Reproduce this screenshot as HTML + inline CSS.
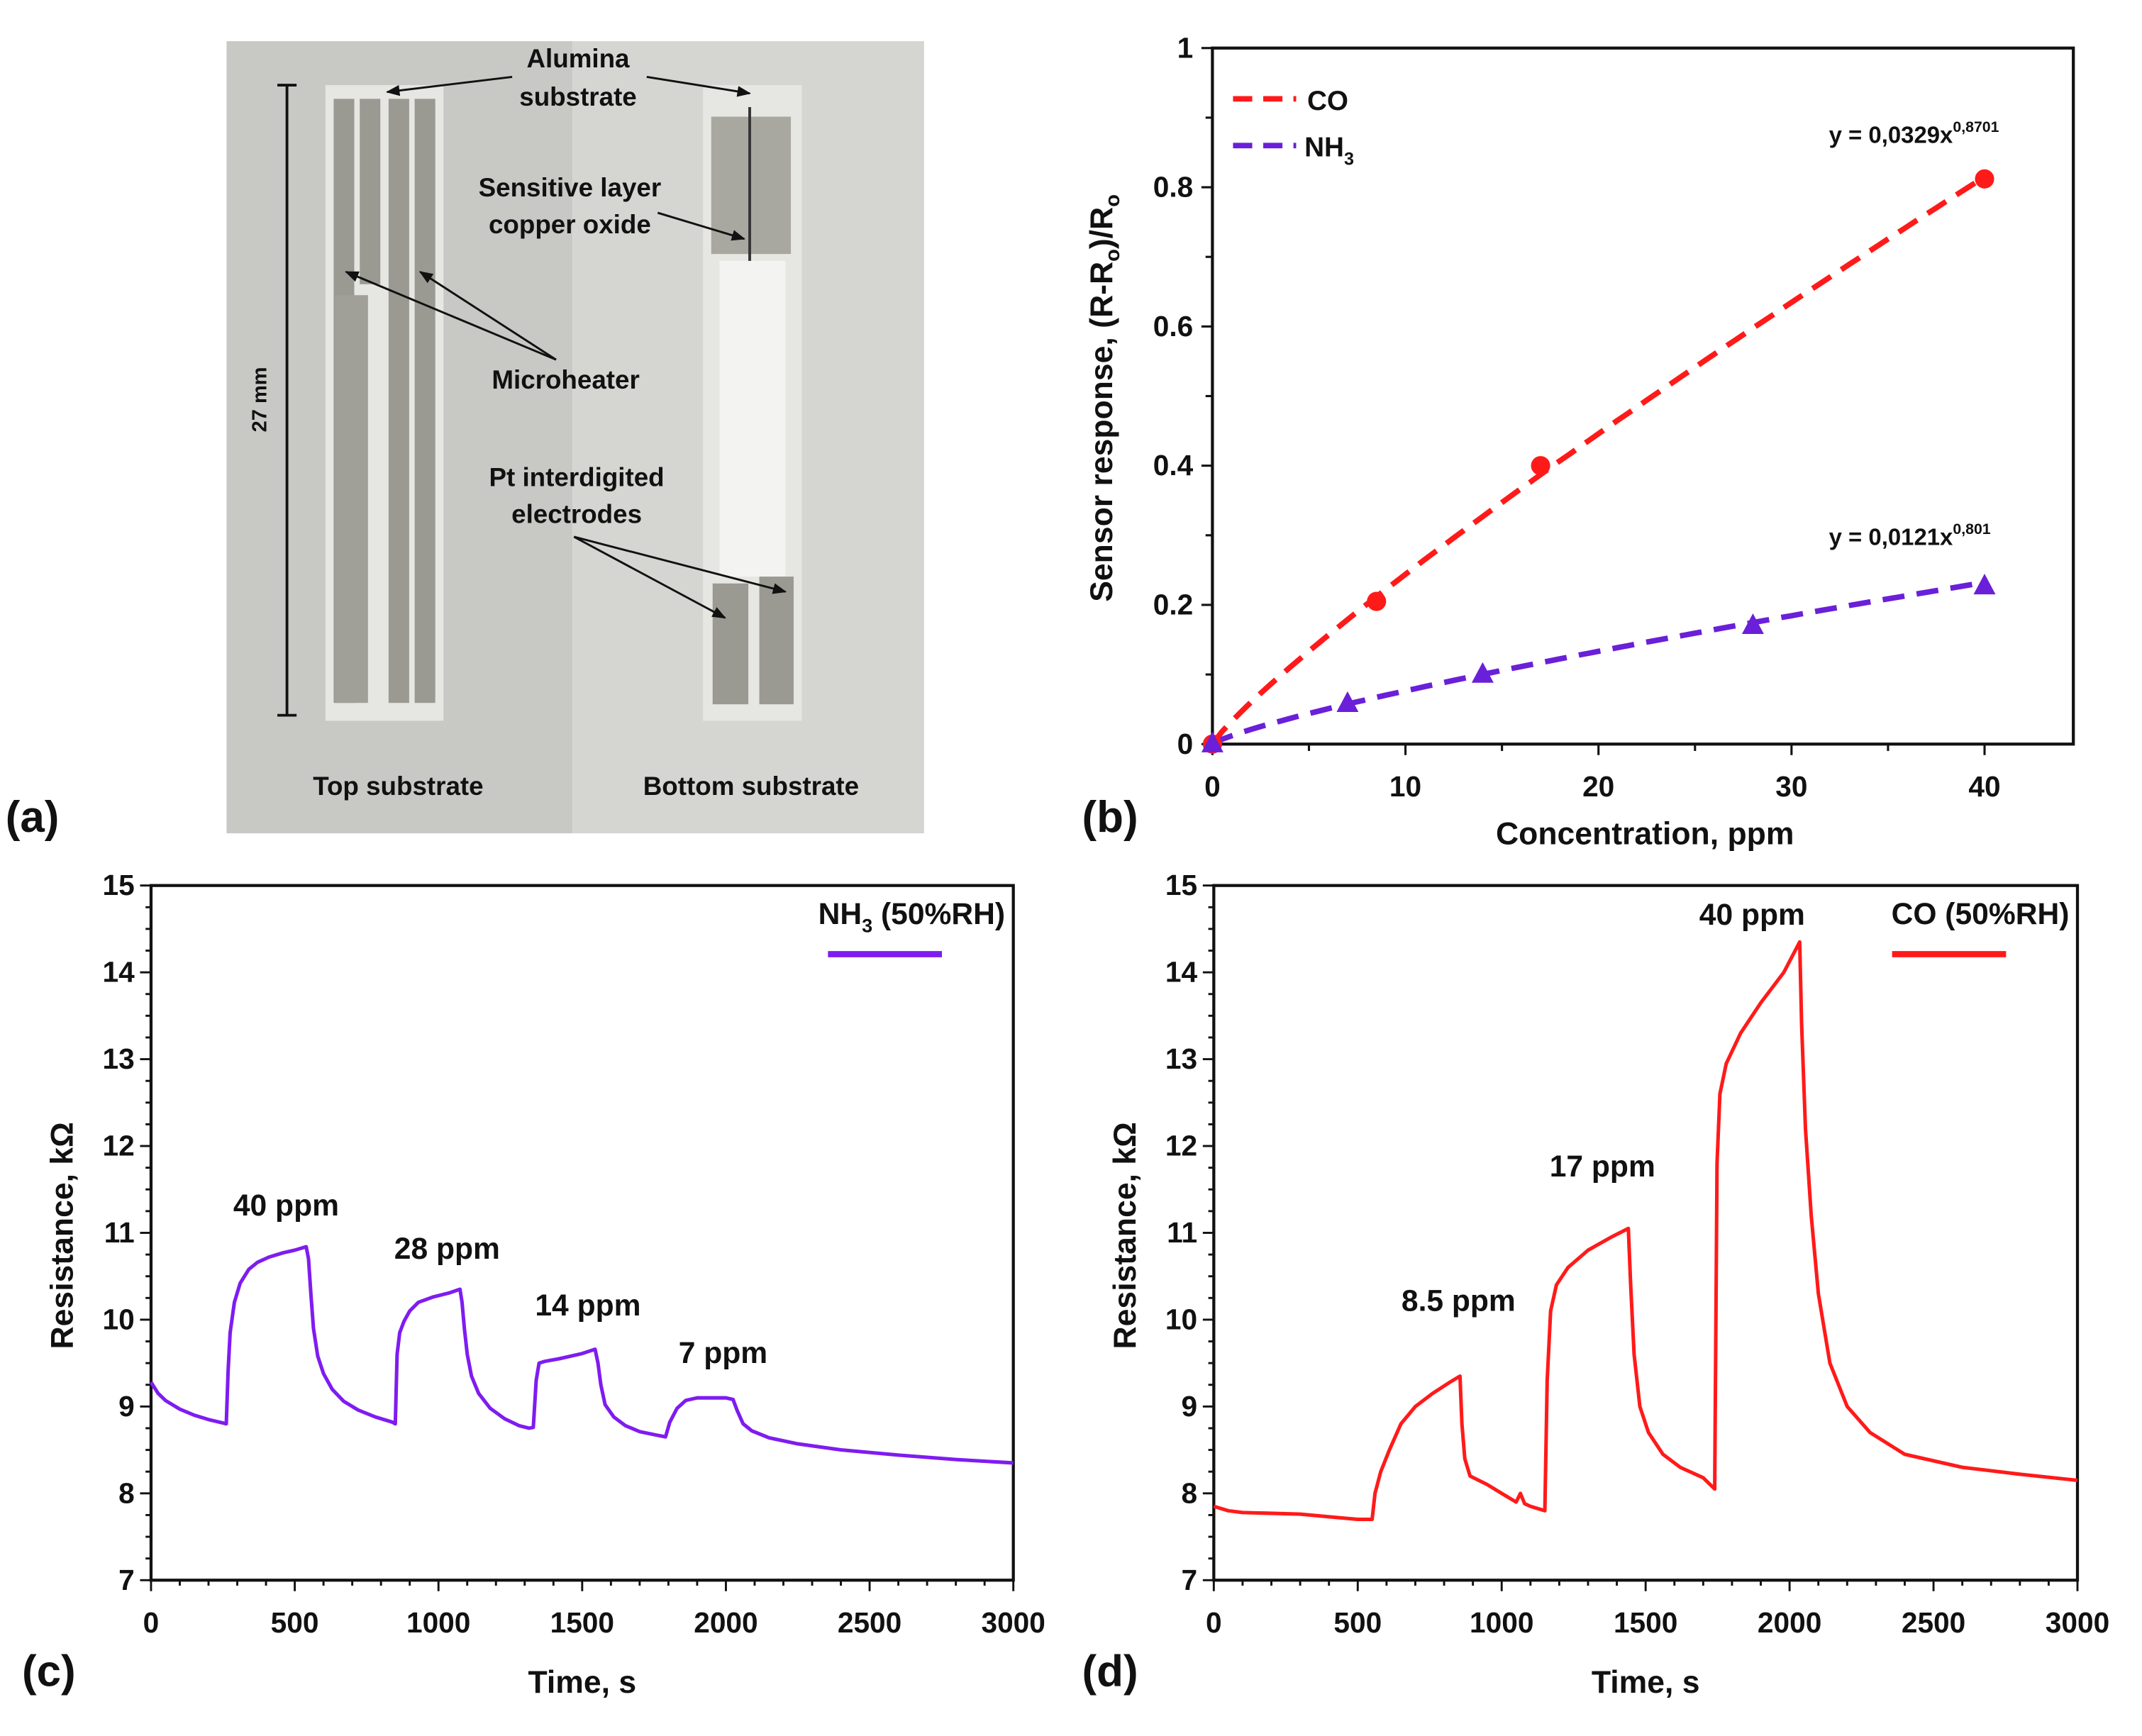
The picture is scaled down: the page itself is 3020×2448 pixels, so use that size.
<!DOCTYPE html>
<html><head><meta charset="utf-8"><style>
html,body{margin:0;padding:0;background:#fff}
svg{display:block}
text{font-family:"Liberation Sans",Arial,sans-serif;font-weight:bold;fill:#111}
</style></head><body>
<svg id="fig" width="3020" height="2448" viewBox="0 0 1560 1264.5" preserveAspectRatio="none" xmlns="http://www.w3.org/2000/svg">
<defs>
<marker id="ah" markerWidth="10" markerHeight="8" refX="9" refY="4" orient="auto" markerUnits="userSpaceOnUse"><path d="M0,0 L10,4 L0,8 Z" fill="#111"/></marker>
</defs>
<g id="panelA">
<rect x="165" y="30" width="252" height="577" fill="#c8c8c5"/>
<rect x="417" y="30" width="256" height="577" fill="#d5d5d2"/>
<rect x="237" y="62" width="86" height="463" fill="#e6e6e2"/>
<rect x="243" y="72" width="15" height="440" fill="#9a9a92"/>
<rect x="262" y="72" width="15" height="135" fill="#9a9a92"/>
<rect x="283" y="72" width="15" height="440" fill="#9a9a92"/>
<rect x="302" y="72" width="15" height="440" fill="#9a9a92"/>
<rect x="244" y="215" width="24" height="297" fill="#a0a098"/>
<rect x="512" y="62" width="72" height="463" fill="#e6e6e2"/>
<rect x="518" y="85" width="58" height="100" fill="#a8a8a0"/>
<rect x="524" y="190" width="48" height="230" fill="#f3f3f1"/>
<rect x="519" y="425" width="26" height="88" fill="#9a9a92"/>
<rect x="553" y="420" width="25" height="93" fill="#9a9a92"/>
<line x1="546" y1="78" x2="546" y2="190" stroke="#333" stroke-width="2"/>
<line x1="209" y1="62" x2="209" y2="521" stroke="#111" stroke-width="2"/>
<line x1="202" y1="62" x2="216" y2="62" stroke="#111" stroke-width="2"/>
<line x1="202" y1="521" x2="216" y2="521" stroke="#111" stroke-width="2"/>
<text transform="translate(194,291) rotate(-90)" font-size="15" text-anchor="middle" font-weight="normal">27 mm</text>
<text x="421" y="49" font-size="19" text-anchor="middle" fill="#222">Alumina</text>
<text x="421" y="77" font-size="19" text-anchor="middle" fill="#222">substrate</text>
<line x1="373" y1="56" x2="282" y2="67" stroke="#111" stroke-width="1.5" marker-end="url(#ah)"/>
<line x1="471" y1="56" x2="546" y2="68" stroke="#111" stroke-width="1.5" marker-end="url(#ah)"/>
<text x="415" y="143" font-size="19" text-anchor="middle" fill="#222">Sensitive layer</text>
<text x="415" y="170" font-size="19" text-anchor="middle" fill="#222">copper oxide</text>
<line x1="479" y1="155" x2="542" y2="174" stroke="#111" stroke-width="1.5" marker-end="url(#ah)"/>
<text x="412" y="283" font-size="19" text-anchor="middle" fill="#222">Microheater</text>
<line x1="405" y1="262" x2="252" y2="198" stroke="#111" stroke-width="1.5" marker-end="url(#ah)"/>
<line x1="405" y1="262" x2="306" y2="198" stroke="#111" stroke-width="1.5" marker-end="url(#ah)"/>
<text x="420" y="354" font-size="19" text-anchor="middle" fill="#222">Pt interdigited</text>
<text x="420" y="381" font-size="19" text-anchor="middle" fill="#222">electrodes</text>
<line x1="418" y1="391" x2="528" y2="450" stroke="#111" stroke-width="1.5" marker-end="url(#ah)"/>
<line x1="418" y1="391" x2="572" y2="431" stroke="#111" stroke-width="1.5" marker-end="url(#ah)"/>
<text x="290" y="579" font-size="19" text-anchor="middle" fill="#222">Top substrate</text>
<text x="547" y="579" font-size="19" text-anchor="middle" fill="#222">Bottom substrate</text>
</g>
<text x="4" y="606" font-size="32">(a)</text>
<text x="788" y="606" font-size="32">(b)</text>
<text x="16" y="1228" font-size="32">(c)</text>
<text x="788" y="1228" font-size="32">(d)</text>
<g id="chartB"></g>
<g id="chartC"></g>
<g id="chartD"></g>
</svg>
<script>
// Panel (b) data
const bCoX = [0, 8.5, 17, 40];
const bCoY = [0, 0.205, 0.4, 0.812];
const bNhX = [0, 7, 14, 28, 40];
const bNhY = [0, 0.058, 0.1, 0.17, 0.227];
const bCoFit = [0.0329, 0.8701];
const bNhFit = [0.0121, 0.801];
const bXTicks = [0, 10, 20, 30, 40];
const bYTicks = [0, 0.2, 0.4, 0.6, 0.8, 1];
const bYTickLabels = ["0", "0.2", "0.4", "0.6", "0.8", "1"];
// Panel (c) NH3 data
const cTime = [0,25,50,100,150,200,250,262,268,275,290,310,340,370,410,460,500,540,548,556,565,580,600,630,670,720,780,840,850,856,865,880,900,930,980,1040,1075,1082,1090,1100,1115,1140,1180,1230,1280,1315,1330,1340,1350,1370,1420,1500,1545,1555,1565,1580,1610,1650,1700,1760,1790,1805,1830,1860,1900,2000,2025,2040,2060,2090,2150,2250,2400,2600,2800,3000];
const cRes = [9.28,9.15,9.07,8.97,8.9,8.85,8.81,8.8,9.4,9.85,10.2,10.42,10.58,10.66,10.72,10.77,10.8,10.84,10.7,10.3,9.9,9.58,9.38,9.2,9.06,8.96,8.88,8.82,8.8,9.6,9.85,9.98,10.1,10.2,10.26,10.31,10.35,10.2,9.9,9.6,9.35,9.15,8.98,8.86,8.78,8.75,8.76,9.3,9.5,9.52,9.55,9.61,9.66,9.5,9.25,9.02,8.88,8.78,8.71,8.67,8.65,8.82,8.98,9.07,9.1,9.1,9.08,8.95,8.8,8.72,8.64,8.57,8.5,8.44,8.39,8.35];
const cAnnText = ["40 ppm","28 ppm","14 ppm","7 ppm"];
const cAnnT = [470, 1030, 1520, 1990];
const cAnnR = [11.2, 10.7, 10.05, 9.5];
// Panel (d) CO data
const dTime = [0,50,100,300,400,500,550,560,580,610,650,700,760,820,855,862,872,890,950,1000,1050,1065,1080,1100,1150,1158,1170,1190,1230,1300,1380,1440,1448,1460,1480,1510,1560,1620,1700,1740,1748,1758,1780,1830,1900,1980,2035,2042,2055,2075,2100,2140,2200,2280,2400,2600,2800,3000];
const dRes = [7.85,7.8,7.78,7.76,7.73,7.7,7.7,8.0,8.25,8.5,8.8,9.0,9.15,9.28,9.35,8.8,8.4,8.2,8.1,8.0,7.9,8.0,7.88,7.85,7.8,9.3,10.1,10.4,10.6,10.8,10.95,11.05,10.4,9.6,9.0,8.7,8.45,8.3,8.18,8.05,11.8,12.6,12.95,13.3,13.65,14.0,14.35,13.4,12.2,11.2,10.3,9.5,9.0,8.7,8.45,8.3,8.22,8.15];
const dAnnText = ["8.5 ppm","17 ppm","40 ppm"];
const dAnnT = [850, 1350, 1870];
const dAnnR = [10.1, 11.65, 14.55];
const tXTicks = [0,500,1000,1500,2000,2500,3000];
const tYTicks = [7,8,9,10,11,12,13,14,15];

const NS = "http://www.w3.org/2000/svg";
function mk(parent, tag, attrs, txt) {
  const e = document.createElementNS(NS, tag);
  for (const k in attrs) e.setAttribute(k, attrs[k]);
  if (txt !== undefined) e.textContent = txt;
  parent.appendChild(e);
  return e;
}
function lin(d0, d1, r0, r1) { return v => r0 + (v - d0) * (r1 - r0) / (d1 - d0); }

// ---------- Panel B ----------
(function(){
  const g = document.getElementById('chartB');
  
  
  const L = 883, R = 1510, T = 35, B = 542;
  const x = lin(0, 44.6, L, R), y = lin(0, 1, B, T);
  const frame = mk(g, 'rect', {x:L, y:T, width:R-L, height:B-T, fill:'none', stroke:'#111', 'stroke-width':2.2});
  
  
  for (let v = 0; v <= 44; v += 5) {
    const big = v % 10 === 0;
    mk(g, 'line', {x1:x(v), x2:x(v), y1:B, y2:B + (big?8:5), stroke:'#111', 'stroke-width':1.6});
  }
  bXTicks.forEach(v => {
    const t = mk(g, 'text', {x:x(v), y:B + 38, 'font-size':21, 'text-anchor':'middle'}, String(v));
    
    
  });
  for (let v = 0; v <= 1.0001; v += 0.1) {
    const big = Math.round(v*10) % 2 === 0;
    mk(g, 'line', {x1:L - (big?8:5), x2:L, y1:y(v), y2:y(v), stroke:'#111', 'stroke-width':1.6});
  }
  bYTicks.forEach((v, i) => {
    const t = mk(g, 'text', {x:L - 14, y:y(v) + 7, 'font-size':21, 'text-anchor':'end'}, bYTickLabels[i]);
    
    
  });
  const xt = mk(g, 'text', {x:1198, y:615, 'font-size':23, 'text-anchor':'middle'}, 'Concentration, ppm');
  
  
  const yt = mk(g, 'text', {transform:'translate(810,290) rotate(-90)', 'font-size':23, 'text-anchor':'middle'});
  
  
  yt.innerHTML = 'Sensor response, (R-R<tspan font-size="15" dy="5">o</tspan><tspan dy="-5">)/R</tspan><tspan font-size="15" dy="5">o</tspan>';
  function fit(coef, col, name) {
    let d = '';
    for (let i = 0; i <= 80; i++) {
      const v = i * 0.5;
      d += (i ? 'L' : 'M') + x(v).toFixed(1) + ',' + y(coef[0] * Math.pow(v, coef[1])).toFixed(1);
    }
    const p = mk(g, 'path', {d:d, fill:'none', stroke:col, 'stroke-width':4, 'stroke-dasharray':'16,9'});
    
    
  }
  fit(bCoFit, '#ff1a1a', 'co-fit-line');
  fit(bNhFit, '#6a1fd8', 'nh3-fit-line');
  bCoX.forEach((v, i) => {
    const c = mk(g, 'circle', {cx:x(v), cy:y(bCoY[i]), r:7, fill:'#ff1a1a'});
    
    
  });
  bNhX.forEach((v, i) => {
    const px = x(v), py = y(bNhY[i]);
    const t = mk(g, 'polygon', {points:`${px},${py-9} ${px-8},${py+6} ${px+8},${py+6}`, fill:'#6a1fd8'});
    
    
  });
  mk(g, 'line', {x1:898, x2:944, y1:72, y2:72, stroke:'#ff1a1a', 'stroke-width':4, 'stroke-dasharray':'14,8'});
  const l1 = mk(g, 'text', {x:952, y:80, 'font-size':20}, 'CO');
  
  
  mk(g, 'line', {x1:898, x2:944, y1:106, y2:106, stroke:'#6a1fd8', 'stroke-width':4, 'stroke-dasharray':'14,8'});
  const l2 = mk(g, 'text', {x:950, y:114, 'font-size':20});
  l2.innerHTML = 'NH<tspan font-size="13" dy="6">3</tspan>';
  
  
  const e1 = mk(g, 'text', {x:1332, y:104, 'font-size':17});
  e1.innerHTML = 'y = 0,0329x<tspan font-size="11" dy="-8">0,8701</tspan>';
  
  
  const e2 = mk(g, 'text', {x:1332, y:397, 'font-size':17});
  e2.innerHTML = 'y = 0,0121x<tspan font-size="11" dy="-8">0,801</tspan>';
  
  
})();

// ---------- Time panels ----------
function timePanel(id, L, R, times, res, col, annT, annR, annText, legendName) {
  const g = document.getElementById(id);
  const T = 645, B = 1151;
  const x = lin(0, 3000, L, R), y = lin(7, 15, B, T);
  const frame = mk(g, 'rect', {x:L, y:T, width:R-L, height:B-T, fill:'none', stroke:'#111', 'stroke-width':2.2});
  
  
  for (let v = 0; v <= 3000; v += 100) {
    const big = v % 500 === 0;
    mk(g, 'line', {x1:x(v), x2:x(v), y1:B, y2:B + (big?8:4), stroke:'#111', 'stroke-width':1.5});
  }
  tXTicks.forEach(v => {
    const t = mk(g, 'text', {x:x(v), y:B + 38, 'font-size':21, 'text-anchor':'middle'}, String(v));
    
    
  });
  for (let v = 7; v <= 15.001; v += 0.25) {
    const big = Math.abs(v - Math.round(v)) < 0.01;
    mk(g, 'line', {x1:L - (big?8:4), x2:L, y1:y(v), y2:y(v), stroke:'#111', 'stroke-width':1.5});
  }
  tYTicks.forEach(v => {
    const t = mk(g, 'text', {x:L - 12, y:y(v) + 7, 'font-size':21, 'text-anchor':'end'}, String(v));
    
    
  });
  const xt = mk(g, 'text', {x:(L+R)/2, y:1233, 'font-size':23, 'text-anchor':'middle'}, 'Time, s');
  
  
  const yt = mk(g, 'text', {transform:`translate(${L-57},900) rotate(-90)`, 'font-size':23, 'text-anchor':'middle'}, 'Resistance, kΩ');
  
  
  let d = '';
  times.forEach((t, i) => { d += (i ? 'L' : 'M') + x(t).toFixed(1) + ',' + y(res[i]).toFixed(1); });
  const p = mk(g, 'path', {d:d, fill:'none', stroke:col, 'stroke-width':2.6, 'stroke-linejoin':'round'});
  
  
  annT.forEach((t, i) => {
    const a = mk(g, 'text', {x:x(t), y:y(annR[i]), 'font-size':22, 'text-anchor':'middle'}, annText[i]);
    
    
  });
  const lg = mk(g, 'text', {x:R - 6, y:673, 'font-size':22, 'text-anchor':'end'});
  lg.innerHTML = legendName;
  
  
  mk(g, 'line', {x1:R - 135, x2:R - 52, y1:695, y2:695, stroke:col, 'stroke-width':4.5});
}
document.getElementById('chartC');
document.getElementById('chartC');
document.getElementById('chartD');
document.getElementById('chartD');
timePanel('chartC', 110, 738, cTime, cRes, '#7f1cf0', cAnnT, cAnnR, cAnnText, 'NH<tspan font-size="14" dy="6">3</tspan><tspan dy="-6"> (50%RH)</tspan>');
timePanel('chartD', 884, 1513, dTime, dRes, '#ff1a1a', dAnnT, dAnnR, dAnnText, 'CO (50%RH)');
</script>
</body></html>
